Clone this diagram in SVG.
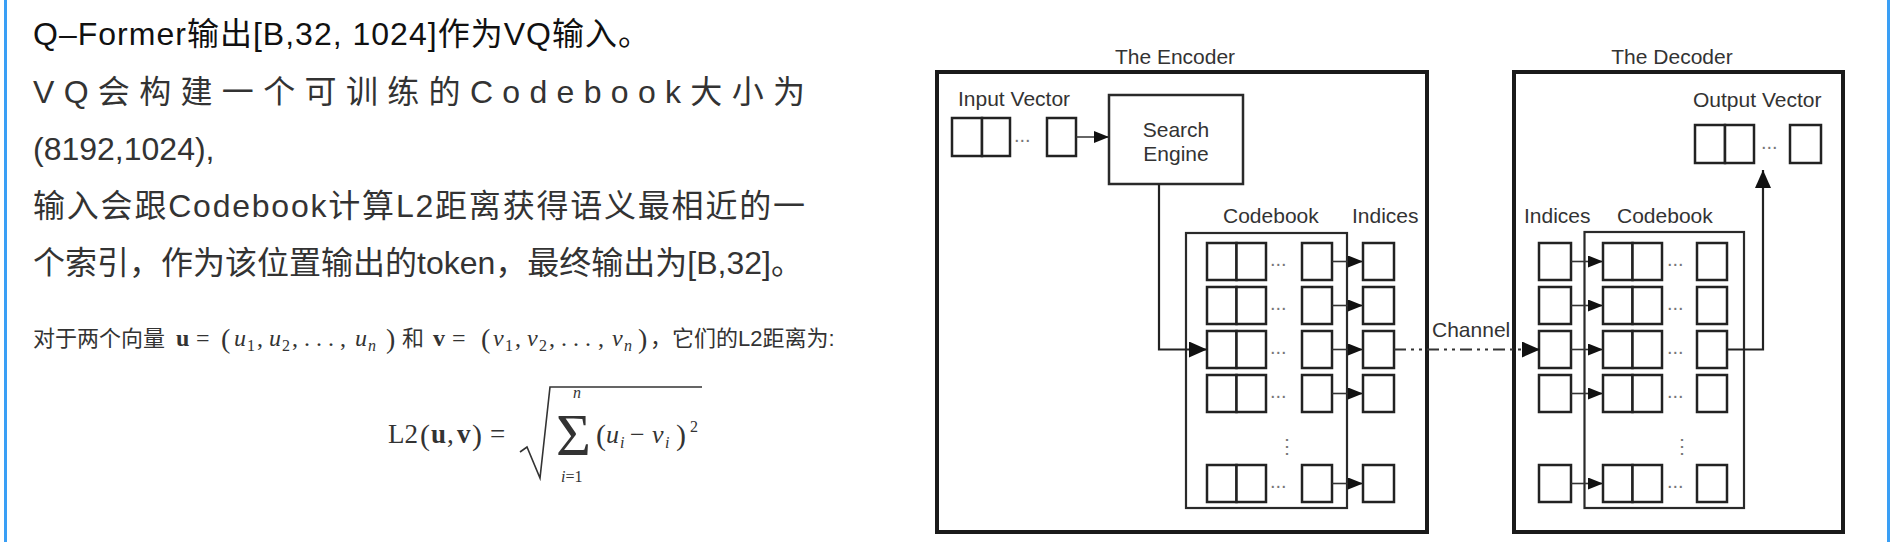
<svg xmlns="http://www.w3.org/2000/svg" width="1898" height="542" viewBox="0 0 1898 542">
<style>
.bg{fill:#ffffff}
.blue{fill:#3a9ff5}
.p{font-family:"Liberation Sans","Noto Sans CJK SC",sans-serif;font-size:32px;fill:#333}
.p1{fill:#111}
.note{font-family:"Liberation Sans","Noto Sans CJK SC",sans-serif;font-size:22px;fill:#333}
.m{font-family:"Liberation Serif","DejaVu Serif",serif;fill:#333}
.lbl{font-family:"Liberation Sans","Noto Sans CJK SC",sans-serif;font-size:21px;fill:#333}
.outer{fill:none;stroke:#1a1a1a;stroke-width:4}
.box{fill:none;stroke:#2a2a2a;stroke-width:2.5}
.cb{fill:none;stroke:#2a2a2a;stroke-width:2.2}
.cell{fill:#fff;stroke:#222;stroke-width:2.5}
.dots{font-family:"Liberation Sans",sans-serif;font-size:20px;fill:#777}
.ln{fill:none;stroke:#333;stroke-width:1.6}
.lnb{fill:none;stroke:#222;stroke-width:2.2}
.ch{fill:none;stroke:#333;stroke-width:2;stroke-dasharray:12 5 3 5 3 5}
</style>
<defs>
<marker id="ah" markerUnits="userSpaceOnUse" markerWidth="15" markerHeight="12" refX="15" refY="6" orient="auto"><path d="M0,0 L15,6 L0,12 z" fill="#111"/></marker>
<marker id="ahL" markerUnits="userSpaceOnUse" markerWidth="18" markerHeight="16" refX="18" refY="8" orient="auto"><path d="M0,0 L18,8 L0,16 z" fill="#111"/></marker>
</defs>
<rect class="bg" x="0" y="0" width="1898" height="542"/>
<rect class="blue" x="4" y="0" width="3" height="542"/>
<rect class="blue" x="1887" y="0" width="3" height="542"/>

<g id="text-left">
<text class="p p1" x="33" y="45" textLength="617" lengthAdjust="spacing">Q–Former输出[B,32, 1024]作为VQ输入。</text>
<text class="p" x="33" y="103" textLength="772" lengthAdjust="spacing">VQ会构建一个可训练的Codebook大小为</text>
<text class="p" x="33" y="160">(8192,1024),</text>
<text class="p" x="33" y="217" textLength="772" lengthAdjust="spacing">输入会跟Codebook计算L2距离获得语义最相近的一</text>
<text class="p" x="33" y="274">个索引，作为该位置输出的token，最终输出为[B,32]。</text>
</g>

<g id="formula-line">
<text class="note" x="33" y="346">对于两个向量</text>
<text class="m" x="176" y="346" font-size="24" font-weight="bold">u</text>
<text class="m" x="196" y="346" font-size="24">=</text>
<text class="m" x="221" y="348" font-size="28">(</text>
<text class="m" x="234" y="346" font-size="24" font-style="italic">u</text>
<text class="m" x="247" y="351" font-size="16">1</text>
<text class="m" x="257" y="346" font-size="24">,</text>
<text class="m" x="269" y="346" font-size="24" font-style="italic">u</text>
<text class="m" x="282" y="351" font-size="16">2</text>
<text class="m" x="292" y="346" font-size="24">,</text>
<text class="m" x="304" y="346" font-size="24">. . .</text>
<text class="m" x="340" y="346" font-size="24">,</text>
<text class="m" x="355" y="346" font-size="24" font-style="italic">u</text>
<text class="m" x="368" y="351" font-size="16" font-style="italic">n</text>
<text class="m" x="386" y="348" font-size="28">)</text>
<text class="note" x="402" y="346">和</text>
<text class="m" x="433" y="346" font-size="24" font-weight="bold">v</text>
<text class="m" x="452" y="346" font-size="24">=</text>
<text class="m" x="481" y="348" font-size="28">(</text>
<text class="m" x="493" y="346" font-size="24" font-style="italic">v</text>
<text class="m" x="505" y="351" font-size="16">1</text>
<text class="m" x="515" y="346" font-size="24">,</text>
<text class="m" x="527" y="346" font-size="24" font-style="italic">v</text>
<text class="m" x="539" y="351" font-size="16">2</text>
<text class="m" x="549" y="346" font-size="24">,</text>
<text class="m" x="561" y="346" font-size="24">. . .</text>
<text class="m" x="598" y="346" font-size="24">,</text>
<text class="m" x="612" y="346" font-size="24" font-style="italic">v</text>
<text class="m" x="624" y="351" font-size="16" font-style="italic">n</text>
<text class="m" x="638" y="348" font-size="28">)</text>
<text class="note" x="650" y="346">，它们的L2距离为:</text>
</g>

<g id="formula">
<text class="m" x="388" y="443" font-size="27">L2</text>
<text class="m" x="420" y="445" font-size="30">(</text>
<text class="m" x="431" y="443" font-size="27" font-weight="bold">u</text>
<text class="m" x="447" y="443" font-size="27">,</text>
<text class="m" x="457" y="443" font-size="27" font-weight="bold">v</text>
<text class="m" x="472" y="445" font-size="30">)</text>
<text class="m" x="490" y="443" font-size="27">=</text>
<path d="M520,452 L527,447 L540,478 L550,387 L702,387" fill="none" stroke="#333" stroke-width="1.6"/>
<text class="m" x="556" y="455" font-size="60">Σ</text>
<text class="m" x="573" y="398" font-size="16" font-style="italic">n</text>
<text class="m" x="561" y="482" font-size="16"><tspan font-style="italic">i</tspan>=1</text>
<text class="m" x="596" y="445" font-size="30">(</text>
<text class="m" x="606" y="443" font-size="26" font-style="italic">u</text>
<text class="m" x="620" y="448" font-size="16" font-style="italic">i</text>
<text class="m" x="630" y="443" font-size="26">−</text>
<text class="m" x="652" y="443" font-size="26" font-style="italic">v</text>
<text class="m" x="665" y="448" font-size="16" font-style="italic">i</text>
<text class="m" x="676" y="445" font-size="30">)</text>
<text class="m" x="690" y="432" font-size="16">2</text>
</g>

<g id="encoder">
<rect class="outer" x="937" y="72" width="490" height="460"/>
<text class="lbl" x="1175" y="64" text-anchor="middle">The Encoder</text>
</g>
<g id="input-vector">
<text class="lbl" x="958" y="106">Input Vector</text>
<rect class="cell" x="952" y="118" width="30" height="38"/>
<rect class="cell" x="982" y="118" width="28" height="38"/>
<text class="dots" x="1014" y="142">...</text>
<rect class="cell" x="1047" y="118" width="29" height="38"/>
</g>
<g id="search-engine">
<rect class="box" x="1109" y="95" width="134" height="89"/>
<text class="lbl" x="1176" y="137" text-anchor="middle">Search</text>
<text class="lbl" x="1176" y="161" text-anchor="middle">Engine</text>
</g>
<g id="enc-codebook">
<text class="lbl" x="1223" y="223">Codebook</text>
<rect class="cb" x="1186" y="233" width="161" height="275"/>
<g id="enc-row1"><rect class="cell" x="1207" y="243" width="29.5" height="37"/><rect class="cell" x="1236.5" y="243" width="29.5" height="37"/><text class="dots" x="1270" y="266">...</text><rect class="cell" x="1302" y="243" width="30" height="37"/></g>
<g id="enc-row2"><rect class="cell" x="1207" y="287" width="29.5" height="37"/><rect class="cell" x="1236.5" y="287" width="29.5" height="37"/><text class="dots" x="1270" y="310">...</text><rect class="cell" x="1302" y="287" width="30" height="37"/></g>
<g id="enc-row3"><rect class="cell" x="1207" y="331" width="29.5" height="37"/><rect class="cell" x="1236.5" y="331" width="29.5" height="37"/><text class="dots" x="1270" y="354">...</text><rect class="cell" x="1302" y="331" width="30" height="37"/></g>
<g id="enc-row4"><rect class="cell" x="1207" y="375" width="29.5" height="37"/><rect class="cell" x="1236.5" y="375" width="29.5" height="37"/><text class="dots" x="1270" y="398">...</text><rect class="cell" x="1302" y="375" width="30" height="37"/></g>
<text class="dots" x="1287" y="453" text-anchor="middle" font-family="DejaVu Sans">⋮</text>
<g id="enc-row5"><rect class="cell" x="1207" y="465" width="29.5" height="37"/><rect class="cell" x="1236.5" y="465" width="29.5" height="37"/><text class="dots" x="1270" y="488">...</text><rect class="cell" x="1302" y="465" width="30" height="37"/></g>
</g>
<g id="enc-indices">
<text class="lbl" x="1352" y="223">Indices</text>
<rect class="cell" x="1363" y="243" width="31" height="37"/>
<rect class="cell" x="1363" y="287" width="31" height="37"/>
<rect class="cell" x="1363" y="331" width="31" height="37"/>
<rect class="cell" x="1363" y="375" width="31" height="37"/>
<rect class="cell" x="1363" y="465" width="31" height="37"/>
</g>

<g id="decoder">
<rect class="outer" x="1514" y="72" width="329" height="460"/>
<text class="lbl" x="1672" y="64" text-anchor="middle">The Decoder</text>
</g>
<g id="output-vector">
<text class="lbl" x="1693" y="107">Output Vector</text>
<rect class="cell" x="1695" y="125" width="30" height="38"/>
<rect class="cell" x="1725" y="125" width="29" height="38"/>
<text class="dots" x="1761" y="149">...</text>
<rect class="cell" x="1790" y="125" width="31" height="38"/>
</g>
<g id="dec-indices">
<text class="lbl" x="1524" y="223">Indices</text>
<rect class="cell" x="1539" y="243" width="32" height="37"/>
<rect class="cell" x="1539" y="287" width="32" height="37"/>
<rect class="cell" x="1539" y="331" width="32" height="37"/>
<rect class="cell" x="1539" y="375" width="32" height="37"/>
<rect class="cell" x="1539" y="465" width="32" height="37"/>
</g>
<g id="dec-codebook">
<text class="lbl" x="1617" y="223">Codebook</text>
<rect class="cb" x="1584.5" y="232" width="159.5" height="276"/>
<g id="dec-row1"><rect class="cell" x="1603" y="243" width="29.5" height="37"/><rect class="cell" x="1632.5" y="243" width="29.5" height="37"/><text class="dots" x="1667" y="266">...</text><rect class="cell" x="1697" y="243" width="30" height="37"/></g>
<g id="dec-row2"><rect class="cell" x="1603" y="287" width="29.5" height="37"/><rect class="cell" x="1632.5" y="287" width="29.5" height="37"/><text class="dots" x="1667" y="310">...</text><rect class="cell" x="1697" y="287" width="30" height="37"/></g>
<g id="dec-row3"><rect class="cell" x="1603" y="331" width="29.5" height="37"/><rect class="cell" x="1632.5" y="331" width="29.5" height="37"/><text class="dots" x="1667" y="354">...</text><rect class="cell" x="1697" y="331" width="30" height="37"/></g>
<g id="dec-row4"><rect class="cell" x="1603" y="375" width="29.5" height="37"/><rect class="cell" x="1632.5" y="375" width="29.5" height="37"/><text class="dots" x="1667" y="398">...</text><rect class="cell" x="1697" y="375" width="30" height="37"/></g>
<text class="dots" x="1682" y="453" text-anchor="middle" font-family="DejaVu Sans">⋮</text>
<g id="dec-row5"><rect class="cell" x="1603" y="465" width="29.5" height="37"/><rect class="cell" x="1632.5" y="465" width="29.5" height="37"/><text class="dots" x="1667" y="488">...</text><rect class="cell" x="1697" y="465" width="30" height="37"/></g>
</g>

<g id="connectors">
<line class="ln" x1="1076" y1="137" x2="1109" y2="137" marker-end="url(#ah)"/>
<polyline class="lnb" points="1159,184 1159,349.5 1207,349.5" marker-end="url(#ahL)"/>
<line class="ln" x1="1332" y1="261.5" x2="1363" y2="261.5" marker-end="url(#ah)"/>
<line class="ln" x1="1332" y1="305.5" x2="1363" y2="305.5" marker-end="url(#ah)"/>
<line class="ln" x1="1332" y1="349.5" x2="1363" y2="349.5" marker-end="url(#ah)"/>
<line class="ln" x1="1332" y1="393.5" x2="1363" y2="393.5" marker-end="url(#ah)"/>
<line class="ln" x1="1332" y1="483.5" x2="1363" y2="483.5" marker-end="url(#ah)"/>
<line class="ch" x1="1394" y1="349.5" x2="1540" y2="349.5" marker-end="url(#ahL)"/>
<text class="lbl" x="1432" y="337">Channel</text>
<line class="ln" x1="1571" y1="261.5" x2="1603" y2="261.5" marker-end="url(#ah)"/>
<line class="ln" x1="1571" y1="305.5" x2="1603" y2="305.5" marker-end="url(#ah)"/>
<line class="ln" x1="1571" y1="349.5" x2="1603" y2="349.5" marker-end="url(#ah)"/>
<line class="ln" x1="1571" y1="393.5" x2="1603" y2="393.5" marker-end="url(#ah)"/>
<line class="ln" x1="1571" y1="483.5" x2="1603" y2="483.5" marker-end="url(#ah)"/>
<polyline class="lnb" points="1727,349.5 1763,349.5 1763,170" marker-end="url(#ahL)"/>
</g>
</svg>
